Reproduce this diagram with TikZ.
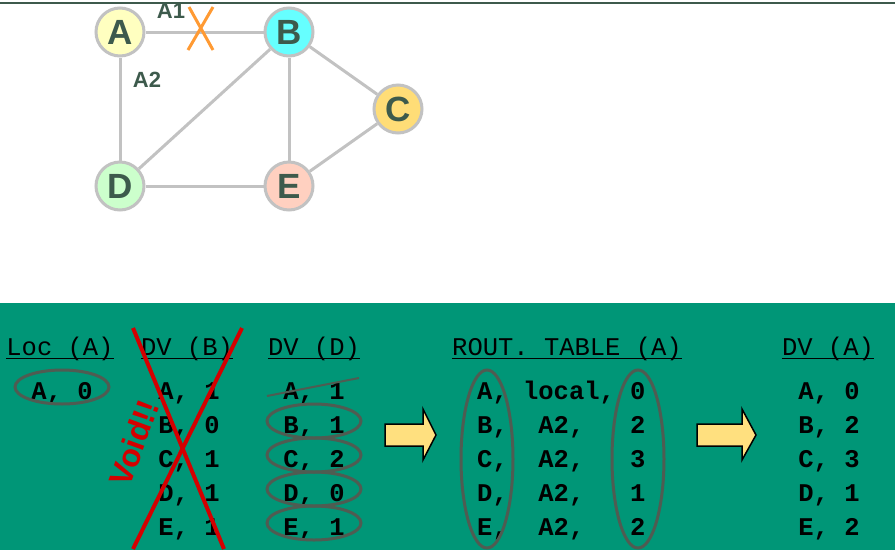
\documentclass[tikz,border=0pt]{standalone}
\usepackage{fontspec}
\setmainfont{Liberation Sans}
\newfontfamily\courier{Liberation Mono}
\definecolor{rim}{HTML}{C2C2C2}
\definecolor{slate}{HTML}{3D5A4C}
\definecolor{sea}{HTML}{009677}
\definecolor{ringgrey}{HTML}{4F5C52}
\definecolor{cross}{HTML}{D40000}
\definecolor{cut}{HTML}{FF9A33}
\definecolor{arrowfill}{HTML}{FFE07F}

\begin{document}
\begin{tikzpicture}[x=1pt,y=-1pt,
  router/.style={circle,draw=rim,line width=3pt,minimum size=48pt,inner sep=0pt,
    font=\fontsize{35}{35}\selectfont\bfseries,text=slate},
  link/.style={draw=rim,line width=3pt},
  port/.style={font=\fontsize{22}{22}\selectfont\bfseries,text=slate,inner sep=0pt},
  hdr/.style={font=\courier\fontsize{25.5}{30}\selectfont,anchor=base,inner sep=0pt},
  entry/.style={font=\courier\bfseries\fontsize{25.5}{30}\selectfont,anchor=base,inner sep=0pt},
  ring/.style={draw=ringgrey,line width=3pt},
  bigarrow/.style={fill=arrowfill,draw=black,line width=1.5pt,line join=miter}]
  \useasboundingbox (0,0) rectangle (895,550);
  \draw [slate,line width=2pt] (0,3) -- (895,3);
  \node [router,fill={rgb,255:red,255;green,255;blue,192}] (rA) at (120,32) {A};
  \node [router,fill={rgb,255:red,102;green,255;blue,255}] (rB) at (289,32) {B};
  \node [router,fill={rgb,255:red,255;green,221;blue,119}] (rC) at (398,109) {C};
  \node [router,fill={rgb,255:red,204;green,255;blue,204}] (rD) at (120,186) {D};
  \node [router,fill={rgb,255:red,255;green,208;blue,192}] (rE) at (289,186) {E};
  \draw [link] (rA) -- (rB);
  \draw [link] (rA) -- (rD);
  \draw [link] (rB) -- (rD);
  \draw [link] (rB) -- (rE);
  \draw [link] (rB) -- (rC);
  \draw [link] (rC) -- (rE);
  \draw [link] (rD) -- (rE);
  \node [port] (pA1) at (171,11) {A1};
  \node [port] (pA2) at (147,80) {A2};
  \draw [cut,line width=3pt] (189,7) -- (213,50);
  \draw [cut,line width=3pt] (213,7) -- (188,50);
  \fill [sea] (0,303) rectangle (895,550);
  \node [hdr] (hLoc) at (60,355) {Loc (A)};
  \node [hdr] (hDvB) at (187,355) {DV (B)};
  \node [hdr] (hDvD) at (314,355) {DV (D)};
  \node [hdr] (hRt) at (567,355) {ROUT. TABLE (A)};
  \node [hdr] (hDvA) at (828,355) {DV (A)};
  \draw [line width=1pt] ([yshift=-3pt]hLoc.base west) -- ([yshift=-3pt]hLoc.base east);
  \draw [line width=1pt] ([yshift=-3pt]hDvB.base west) -- ([yshift=-3pt]hDvB.base east);
  \draw [line width=1pt] ([yshift=-3pt]hDvD.base west) -- ([yshift=-3pt]hDvD.base east);
  \draw [line width=1pt] ([yshift=-3pt]hRt.base west) -- ([yshift=-3pt]hRt.base east);
  \draw [line width=1pt] ([yshift=-3pt]hDvA.base west) -- ([yshift=-3pt]hDvA.base east);
  \node [entry] (loc1) at (62,399) {A, 0};
  \node [entry] (dvb1) at (189,399) {A, 1};
  \node [entry] (dvb2) at (189,433) {B, 0};
  \node [entry] (dvb3) at (189,467) {C, 1};
  \node [entry] (dvb4) at (189,501) {D, 1};
  \node [entry] (dvb5) at (189,535) {E, 1};
  \node [entry] (dvd1) at (314,399) {A, 1};
  \node [entry] (dvd2) at (314,433) {B, 1};
  \node [entry] (dvd3) at (314,467) {C, 2};
  \node [entry] (dvd4) at (314,501) {D, 0};
  \node [entry] (dvd5) at (314,535) {E, 1};
  \node [entry,anchor=base west] (rt1) at (477,399) {A, local, 0};
  \node [entry,anchor=base west] (rt2) at (477,433) {B,~~A2,~~~2};
  \node [entry,anchor=base west] (rt3) at (477,467) {C,~~A2,~~~3};
  \node [entry,anchor=base west] (rt4) at (477,501) {D,~~A2,~~~1};
  \node [entry,anchor=base west] (rt5) at (477,535) {E,~~A2,~~~2};
  \node [entry] (dva1) at (829,399) {A, 0};
  \node [entry] (dva2) at (829,433) {B, 2};
  \node [entry] (dva3) at (829,467) {C, 3};
  \node [entry] (dva4) at (829,501) {D, 1};
  \node [entry] (dva5) at (829,535) {E, 2};
  \draw [ring] ([yshift=12pt]loc1.base) ellipse [x radius=47pt,y radius=17pt];
  \draw [ring] ([yshift=12pt]dvd2.base) ellipse [x radius=47pt,y radius=17pt];
  \draw [ring] ([yshift=12pt]dvd3.base) ellipse [x radius=47pt,y radius=17pt];
  \draw [ring] ([yshift=12pt]dvd4.base) ellipse [x radius=47pt,y radius=17pt];
  \draw [ring] ([yshift=12pt]dvd5.base) ellipse [x radius=47pt,y radius=17pt];
  \draw [ringgrey,line width=2pt] (267,396) -- (359,378);
  \draw [ring] (487,459) ellipse [x radius=26pt,y radius=89pt];
  \draw [ring] (638,459) ellipse [x radius=26pt,y radius=89pt];
  \draw [cross,line width=4pt] (133,328) -- (224,549);
  \draw [cross,line width=4pt] (242,328) -- (133,549);
  \node [rotate=70,text=cross,font=\fontsize{32}{32}\selectfont\bfseries,inner sep=0pt] (void) at (134,443) {Void!!};
  \draw [bigarrow] (385,424) -- (423,424) -- (423,409) -- (436,435) -- (423,460) -- (423,446) -- (385,446) -- cycle;
  \draw [bigarrow] (697,424) -- (742,424) -- (742,409) -- (756,435) -- (742,460) -- (742,446) -- (697,446) -- cycle;
\end{tikzpicture}
\end{document}
